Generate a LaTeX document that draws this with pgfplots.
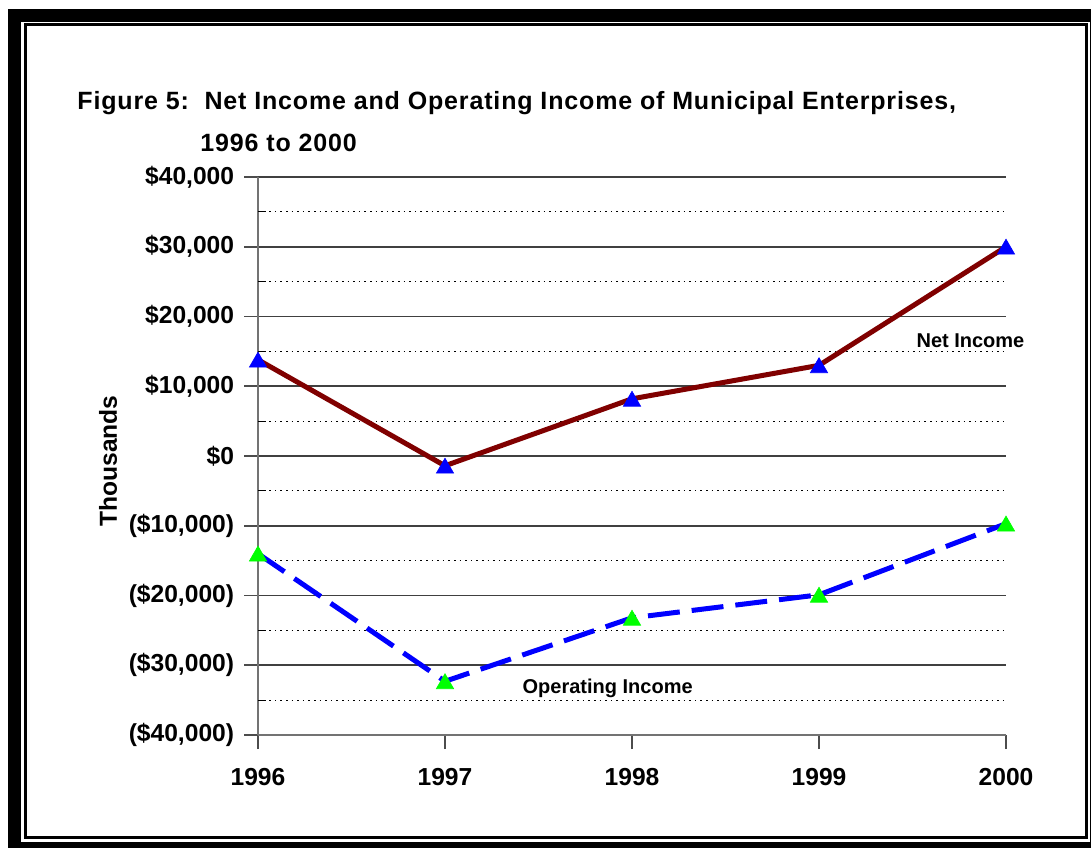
\documentclass[border=0pt]{standalone}
\usepackage{pgfplots}
\pgfplotsset{compat=1.18}
\usepackage{fontspec}
\setmainfont{Liberation Sans}
\newfontfamily\titlefont[LetterSpace=3.4]{Liberation Sans}
\definecolor{netred}{RGB}{128,0,0}
\definecolor{opblue}{RGB}{0,0,255}
\definecolor{mkgreen}{RGB}{0,255,0}
\begin{document}
\begin{tikzpicture}
\useasboundingbox (0,0) rectangle (545.5pt,424pt);
% frames
\fill[black] (4pt,0pt) rectangle (545.5pt,419.5pt);
\fill[white] (10.5pt,3pt) rectangle (545pt,413pt);
\draw[black,line width=1.5pt] (12.75pt,5.25pt) rectangle (543.25pt,411.5pt);
% title
\node[anchor=base west,inner sep=0pt,font=\titlefont\fontsize{12.5}{14}\selectfont\bfseries] at (38.5pt,369pt) {Figure 5:\ \ Net Income and Operating Income of Municipal Enterprises,};
\node[anchor=base west,inner sep=0pt,font=\titlefont\fontsize{12.5}{14}\selectfont\bfseries] at (100pt,348.5pt) {1996 to 2000};
\begin{axis}[
 at={(129pt,56.5pt)}, anchor=south west,
 scale only axis, width=374pt, height=279pt,
 xmin=1996, xmax=2000, ymin=-40000, ymax=40000,
 scaled y ticks=false, scaled x ticks=false,
 axis lines=left, axis line style={-, draw=black!55, line width=1pt},
 xtick={1996,1997,1998,1999,2000},
 xticklabels={1996,1997,1998,1999,2000},
 ytick={-40000,-30000,-20000,-10000,0,10000,20000,30000,40000},
 yticklabels={{(\$40,000)},{(\$30,000)},{(\$20,000)},{(\$10,000)},{\$0},{\$10,000},{\$20,000},{\$30,000},{\$40,000}},
 tick align=outside, major tick length=7pt,
 tick style={black!70, line width=0.8pt},
 ymajorgrids, major grid style={black!75, line width=0.8pt},
 extra y ticks={-35000,-25000,-15000,-5000,5000,15000,25000,35000},
 extra y tick labels={},
 extra y tick style={tick align=inside, major tick length=4pt, grid=major, major grid style={black, dotted, line width=0.6pt}, tick style={black, line width=0.6pt}},
 ticklabel style={font=\fontsize{12.3}{14}\selectfont\bfseries},
 xticklabel style={yshift=-6pt},
 yticklabel style={xshift=-1.5pt},
 ylabel={Thousands},
 ylabel style={at={(axis description cs:-0.2005,0.491)}, anchor=center, font=\fontsize{12.3}{14}\selectfont\bfseries},
 clip=false,
]
\addplot[color=netred, line width=2.5pt, mark=triangle*, mark size=5pt,
  mark options={fill=opblue, draw=opblue, line width=0.3pt, solid, yshift=-1.2pt}]
  coordinates {(1996,13800)(1997,-1400)(1998,8200)(1999,13000)(2000,30000)};
\addplot[color=opblue, line width=2.5pt, dash pattern=on 16pt off 6pt, mark=triangle*, mark size=5pt,
  mark options={fill=mkgreen, draw=mkgreen, line width=0.3pt, solid, yshift=-1.2pt}]
  coordinates {(1996,-14000)(1997,-32300)(1998,-23200)(1999,-19900)(2000,-9700)};
\node[font=\fontsize{10}{12}\selectfont\bfseries] at (axis cs:1999.81,16600) {Net Income};
\node[font=\fontsize{10}{12}\selectfont\bfseries] at (axis cs:1997.87,-33300) {Operating Income};
\end{axis}
\end{tikzpicture}
\end{document}
